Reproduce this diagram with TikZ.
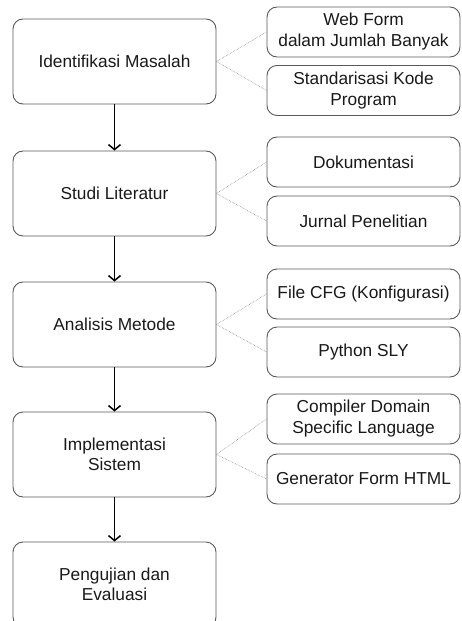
\documentclass[tikz,border=0pt]{standalone}
\usepackage{fontspec}
\setmainfont{Liberation Sans}
\usetikzlibrary{arrows.meta}
\begin{document}
\begin{tikzpicture}[x=1pt,y=-1pt,
  mainbox/.style={draw=black!65, line width=0.9pt, rounded corners=10pt, minimum width=203pt, minimum height=85pt, align=center, font=\fontsize{17.3}{20.5}\selectfont, text=black!90, inner sep=0pt},
  subbox/.style={draw=black!65, line width=0.9pt, rounded corners=10pt, minimum width=193pt, minimum height=50pt, align=center, font=\fontsize{17.3}{21}\selectfont, text=black!90, inner sep=0pt},
  flow/.style={-{Straight Barb[length=5pt,width=12pt]}, line width=1.5pt, black},
  link/.style={densely dotted, black!45, line width=0.6pt}]
\useasboundingbox (0,0) rectangle (461,621);
\begin{scope}
\clip (0,0) rectangle (461,621);
\node[mainbox] (m1) at (114.5,61.5) {Identifikasi Masalah};
\node[mainbox] (m2) at (114.5,193.5) {Studi Literatur};
\node[mainbox] (m3) at (114.5,324.5) {Analisis Metode};
\node[mainbox] (m4) at (114.5,454.5) {Implementasi\\Sistem};
\node[mainbox] (m5) at (114.5,584.5) {Pengujian dan\\Evaluasi};

\node[subbox] (a1) at (363.5,32) {Web Form\\dalam Jumlah Banyak};
\node[subbox] (a2) at (363.5,90.5) {Standarisasi Kode\\Program};
\node[subbox] (b1) at (363.5,162) {Dokumentasi};
\node[subbox] (b2) at (363.5,221) {Jurnal Penelitian};
\node[subbox] (c1) at (363.5,294) {File CFG (Konfigurasi)};
\node[subbox] (c2) at (363.5,352) {Python SLY};
\node[subbox] (d1) at (363.5,419) {Compiler Domain\\Specific Language};
\node[subbox] (d2) at (363.5,479) {Generator Form HTML};

\draw[flow] (m1.south) -- (m2.north);
\draw[flow] (m2.south) -- (m3.north);
\draw[flow] (m3.south) -- (m4.north);
\draw[flow] (m4.south) -- (m5.north);

\foreach \m/\s in {m1/a1,m1/a2,m2/b1,m2/b2,m3/c1,m3/c2,m4/d1,m4/d2}
  \draw[link] (\m.east) -- (\s.west);
\end{scope}
\end{tikzpicture}
\end{document}
